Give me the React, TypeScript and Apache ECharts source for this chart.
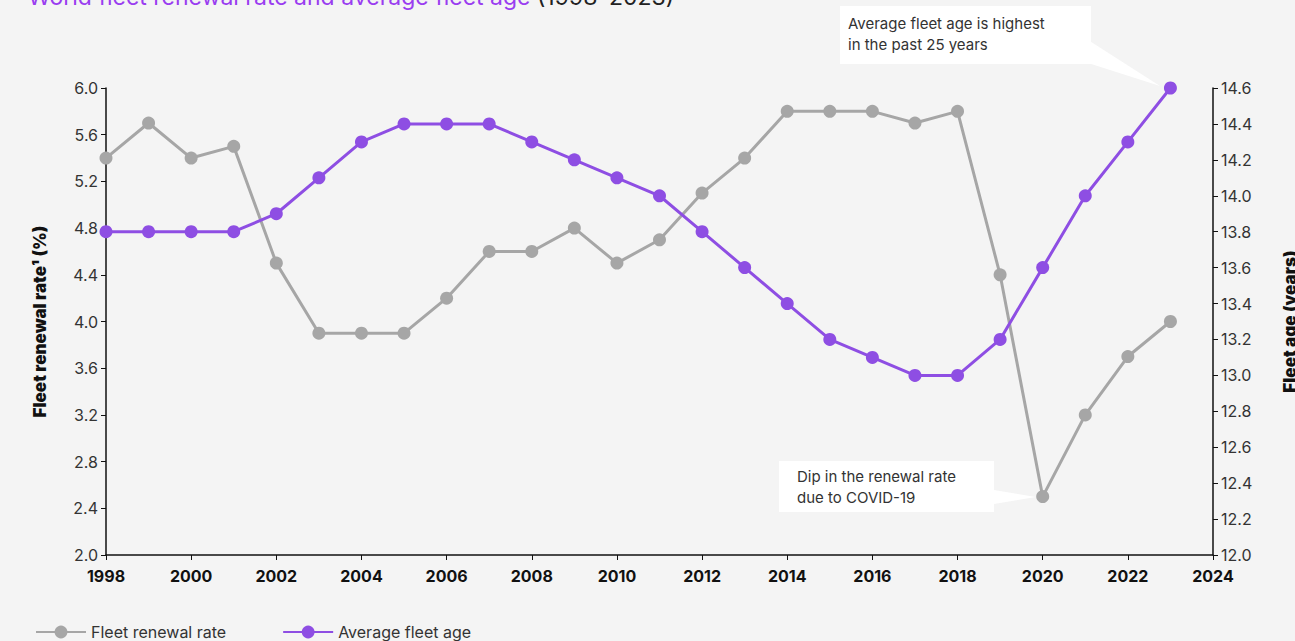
import React, { useEffect, useRef } from "react";
import * as echarts from "echarts";

const years = [1998, 1999, 2000, 2001, 2002, 2003, 2004, 2005, 2006, 2007, 2008, 2009, 2010, 2011, 2012, 2013, 2014, 2015, 2016, 2017, 2018, 2019, 2020, 2021, 2022, 2023];
const renewalRate = [5.4, 5.7, 5.4, 5.5, 4.5, 3.9, 3.9, 3.9, 4.2, 4.6, 4.6, 4.8, 4.5, 4.7, 5.1, 5.4, 5.8, 5.8, 5.8, 5.7, 5.8, 4.4, 2.5, 3.2, 3.7, 4.0];
const fleetAge = [13.8, 13.8, 13.8, 13.8, 13.9, 14.1, 14.3, 14.4, 14.4, 14.4, 14.3, 14.2, 14.1, 14.0, 13.8, 13.6, 13.4, 13.2, 13.1, 13.0, 13.0, 13.2, 13.6, 14.0, 14.3, 14.6];

const seriesNames = ["Fleet renewal rate", "Average fleet age"];
const titleMain = "World fleet renewal rate and average fleet age";
const titleYears = " (1998–2023)";
const leftAxisName = "Fleet renewal rate¹ (%)";
const rightAxisName = "Fleet age (years)";
const note1 = "Average fleet age is highest\nin the past 25 years";
const note2 = "Dip in the renewal rate\ndue to COVID-19";

const GRAY = "#a6a6a6";
const PURPLE = "#8e4ee3";
const FONT = "Inter, 'Noto Sans', sans-serif";

export default function App() {
  const ref = useRef<HTMLDivElement>(null);
  useEffect(() => {
    if (!ref.current) return;
    document.documentElement.style.overflow = "hidden";
    document.body.style.margin = "0";
    document.body.style.overflow = "hidden";
    const chart = echarts.init(ref.current, null, { renderer: "svg", width: 1295, height: 641 });
    const axisLine = { show: true, lineStyle: { color: "#111", width: 1.5 } };
    chart.setOption({
      animation: false,
      backgroundColor: "#f4f4f4",
      textStyle: { fontFamily: FONT },
      grid: { left: 106, right: 82, top: 88, bottom: 86, containLabel: false, outerBoundsMode: "none" },
      legend: {
        left: 30,
        bottom: -4,
        itemWidth: 50,
        itemHeight: 16,
        itemGap: 56,
        textStyle: { fontSize: 16, color: "#333", fontFamily: FONT },
        data: seriesNames,
      },
      xAxis: {
        type: "value",
        min: 1998,
        max: 2024,
        interval: 2,
        axisLine,
        axisTick: { show: true, length: 5, lineStyle: { color: "#111" } },
        splitLine: { show: false },
        axisLabel: { color: "#111", fontSize: 16, fontWeight: "bold", margin: 13, formatter: (v: number) => String(v) },
      },
      yAxis: [
        {
          type: "value",
          min: 2.0,
          max: 6.0,
          interval: 0.4,
          axisLine,
          axisTick: { show: true, length: 5, lineStyle: { color: "#111" } },
          splitLine: { show: false },
          axisLabel: { color: "#333", fontSize: 16, margin: 8, formatter: (v: number) => v.toFixed(1) },
          name: leftAxisName,
          nameLocation: "middle",
          nameGap: 58,
          nameTextStyle: { fontWeight: 900, fontSize: 17, color: "#111", padding: [0, 0, 0, 0] },
        },
        {
          type: "value",
          position: "right",
          min: 12.0,
          max: 14.6,
          interval: 0.2,
          axisLine,
          axisTick: { show: true, length: 5, lineStyle: { color: "#111" } },
          splitLine: { show: false },
          axisLabel: { color: "#333", fontSize: 16, margin: 8, formatter: (v: number) => v.toFixed(1) },
          name: rightAxisName,
          nameLocation: "middle",
          nameGap: 68,
          nameRotate: 90,
          nameTextStyle: { fontWeight: 900, fontSize: 17, color: "#111" },
        },
      ],
      series: [
        {
          name: seriesNames[0],
          type: "line",
          yAxisIndex: 0,
          data: years.map((y, i) => [y, renewalRate[i]]),
          symbol: "circle",
          symbolSize: 13,
          lineStyle: { color: GRAY, width: 3 },
          itemStyle: { color: GRAY },
        },
        {
          name: seriesNames[1],
          type: "line",
          yAxisIndex: 1,
          data: years.map((y, i) => [y, fleetAge[i]]),
          symbol: "circle",
          symbolSize: 13,
          lineStyle: { color: PURPLE, width: 3 },
          itemStyle: { color: PURPLE },
          z: 3,
        },
      ],
      graphic: [
        {
          type: "text",
          left: 28,
          top: -15,
          style: {
            text: "{a|" + titleMain + "}{b|" + titleYears + "}",
            rich: {
              a: { fill: "#9a3df0", fontSize: 23, fontFamily: FONT },
              b: { fill: "#222", fontSize: 23, fontFamily: FONT },
            },
          },
        },
        {
          type: "polygon",
          shape: { points: [[1085, 38], [1085, 62], [1160, 86]] },
          style: { fill: "#ffffff" },
          z: 10,
        },
        {
          type: "rect",
          shape: { x: 840, y: 6, width: 251, height: 58 },
          style: { fill: "#ffffff" },
          z: 10,
        },
        {
          type: "text",
          x: 848,
          y: 13,
          style: { text: note1, fontSize: 15, lineHeight: 21, fill: "#333", fontFamily: FONT },
          z: 11,
        },
        {
          type: "polygon",
          shape: { points: [[988, 489], [988, 505], [1036, 497]] },
          style: { fill: "#ffffff" },
          z: 10,
        },
        {
          type: "rect",
          shape: { x: 779, y: 461, width: 215, height: 51 },
          style: { fill: "#ffffff" },
          z: 10,
        },
        {
          type: "text",
          x: 797,
          y: 466,
          style: { text: note2, fontSize: 15, lineHeight: 21, fill: "#333", fontFamily: FONT },
          z: 11,
        },
      ],
    });
    return () => chart.dispose();
  }, []);
  return <div ref={ref} style={{ position: "fixed", left: 0, top: 0, width: 1295, height: 641 }} />;
}
